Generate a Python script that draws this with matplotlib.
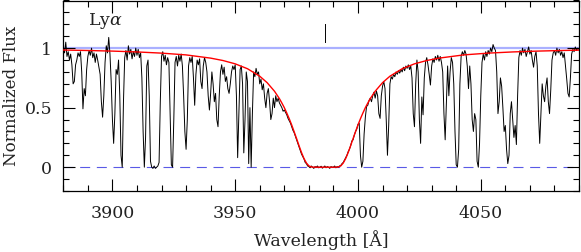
import numpy as np
import matplotlib
matplotlib.use("Agg")
import matplotlib.pyplot as plt
from matplotlib.ticker import MultipleLocator

# ---------------- data ----------------
wave_start = 3880.0
wave_step = 0.5
flux = [
    # 3880 - 3889.5
    1.00, 0.96, 1.05, 0.93, 0.97, 0.90, 0.95, 0.86, 0.70, 0.72,
    0.86, 0.90, 0.96, 0.93, 0.97, 0.80, 0.49, 0.66, 0.60, 0.82,
    # 3890 - 3899.5
    0.93, 0.98, 0.94, 1.00, 0.92, 0.96, 0.88, 0.95, 0.90, 0.84,
    0.78, 0.55, 0.42, 0.60, 0.88, 1.02, 0.96, 1.09, 0.95, 0.72,
    # 3900 - 3909.5
    0.40, 0.20, 0.45, 0.82, 0.78, 0.90, 0.60, 0.10, 0.00, 0.55,
    0.92, 0.98, 0.90, 1.02, 0.95, 0.99, 0.91, 0.97, 0.93, 1.00,
    # 3910 - 3919.5
    0.94, 0.99, 0.92, 0.96, 0.75, 0.30, 0.00, 0.25, 0.85, 0.90,
    0.60, 0.05, 0.00, -0.01, 0.01, -0.01, 0.00, 0.01, 0.04, 0.55,
    # 3920 - 3929.5
    0.93, 0.97, 0.89, 0.94, 0.86, 0.92, 0.88, 0.45, 0.02, 0.00,
    0.40, 0.88, 0.93, 0.85, 0.94, 0.89, 0.95, 0.85, 0.60, 0.30,
    # 3930 - 3939.5
    0.15, 0.40, 0.85, 0.92, 0.88, 0.93, 0.75, 0.52, 0.78, 0.90,
    0.86, 0.91, 0.72, 0.66, 0.85, 0.92, 0.88, 0.80, 0.60, 0.48,
    # 3940 - 3949.5
    0.62, 0.80, 0.70, 0.55, 0.62, 0.40, 0.34, 0.60, 0.80, 0.86,
    0.78, 0.84, 0.72, 0.76, 0.66, 0.62, 0.70, 0.80, 0.85, 0.82,
    # 3950 - 3959.5
    0.86, 0.60, 0.08, 0.45, 0.82, 0.85, 0.70, 0.12, 0.40, 0.80,
    0.72, 0.03, 0.50, 0.00, 0.45, 0.80, 0.76, 0.83, 0.78, 0.80,
    # 3960 - 3969.5
    0.70, 0.74, 0.65, 0.70, 0.58, 0.50, 0.62, 0.66, 0.55, 0.40,
    0.45, 0.58, 0.50, 0.60, 0.55, 0.58, 0.54, 0.52, 0.50, 0.47,
    # 3970 - 3979.5
    0.48, 0.46, 0.44, 0.41, 0.39, 0.37, 0.34, 0.31, 0.29, 0.26,
    0.23, 0.20, 0.17, 0.14, 0.11, 0.09, 0.07, 0.04, 0.03, 0.01,
    # 3980 - 3989.5
    0.005, -0.005, 0.01, 0.0, -0.01, 0.005, 0.0, 0.01, -0.005, 0.0,
    0.008, -0.008, 0.0, 0.01, -0.005, 0.005, 0.0, -0.01, 0.005, 0.0,
    # 3990 - 3999.5
    0.0, 0.01, -0.005, 0.005, 0.0, 0.01, 0.015, 0.03, 0.04, 0.06,
    0.08, 0.10, 0.13, 0.15, 0.18, 0.22, 0.23, 0.27, 0.30, 0.32,
    # 4000 - 4009.5
    0.36, 0.37, 0.10, 0.00, 0.05, 0.28, 0.42, 0.51, 0.52, 0.56,
    0.58, 0.55, 0.60, 0.63, 0.58, 0.64, 0.60, 0.45, 0.41, 0.60,
    # 4010 - 4019.5
    0.68, 0.72, 0.66, 0.40, 0.10, 0.35, 0.70, 0.76, 0.74, 0.78,
    0.76, 0.80, 0.78, 0.81, 0.79, 0.82, 0.80, 0.84, 0.81, 0.85,
    # 4020 - 4029.5
    0.83, 0.86, 0.82, 0.85, 0.75, 0.45, 0.34, 0.70, 0.90, 0.80,
    0.40, 0.20, 0.59, 0.44, 0.75, 0.88, 0.92, 0.86, 0.78, 0.69,
    # 4030 - 4039.5
    0.85, 0.91, 0.88, 0.93, 0.90, 0.94, 0.89, 0.93, 0.88, 0.80,
    0.45, 0.23, 0.55, 0.85, 0.60, 0.80, 0.92, 0.88, 0.70, 0.30,
    # 4040 - 4049.5
    0.02, 0.00, 0.15, 0.70, 0.93, 0.97, 0.94, 0.98, 0.95, 0.85,
    0.66, 0.85, 0.70, 0.40, 0.30, 0.45, 0.40, 0.05, 0.00, 0.20,
    # 4050 - 4059.5
    0.60, 0.88, 0.95, 0.90, 0.97, 0.93, 0.98, 0.95, 1.00, 0.97,
    1.03, 1.00, 0.98, 0.80, 0.45, 0.55, 0.75, 0.68, 0.50, 0.30,
    # 4060 - 4069.5
    0.35, 0.15, 0.03, 0.10, 0.45, 0.55, 0.40, 0.25, 0.35, 0.19,
    0.60, 0.92, 0.98, 0.94, 1.00, 0.96, 0.99, 0.93, 0.97, 1.01,
    # 4070 - 4079.5
    0.95, 0.98, 0.90, 0.84, 0.93, 0.97, 0.85, 0.45, 0.20, 0.45,
    0.70, 0.60, 0.55, 0.68, 0.75, 0.55, 0.45, 0.65, 0.90, 0.96,
    # 4080 - 4090
    0.98, 0.94, 1.00, 0.96, 0.99, 0.94, 0.97, 0.92, 0.96, 0.85,
    0.74, 0.62, 0.59, 0.75, 0.95, 0.99, 0.97, 1.01, 0.98, 1.00,
    0.99,
]

model_wave = [3880, 3890, 3900, 3910, 3920, 3930, 3940, 3945, 3950, 3955,
              3960, 3963, 3966, 3968, 3969, 3970, 3971, 3972, 3973, 3974,
              3975, 3976, 3977, 3978, 3979, 3980, 3981, 3982, 3991, 3992,
              3993, 3994, 3995, 3996, 3997, 3998, 3999, 4000, 4001, 4002,
              4003, 4004, 4005, 4007, 4010, 4013, 4018, 4023, 4028, 4033,
              4043, 4053, 4063, 4073, 4083, 4090]
model_flux = [0.984, 0.980, 0.975, 0.968, 0.958, 0.943, 0.916, 0.896, 0.868, 0.827,
              0.764, 0.710, 0.638, 0.576, 0.539, 0.500, 0.455, 0.407, 0.355, 0.298,
              0.240, 0.180, 0.123, 0.073, 0.035, 0.011, 0.002, 0.000, 0.000, 0.002,
              0.011, 0.035, 0.073, 0.123, 0.180, 0.240, 0.298, 0.355, 0.407, 0.455,
              0.500, 0.539, 0.576, 0.638, 0.710, 0.764, 0.827, 0.868, 0.896, 0.916,
              0.943, 0.958, 0.968, 0.975, 0.980, 0.983]

continuum_level = 1.0
zero_level = 0.0
marker_wave = 3986.7
marker_flux = [1.05, 1.20]
line_label = r"Ly$\alpha$"
label_wave, label_flux = 3890.0, 1.23

x_major = [3900, 3950, 4000, 4050]
y_major = [0, 0.5, 1]
y_major_labels = ["0", "0.5", "1"]

# ---------------- plot ----------------
plt.rcParams["font.family"] = ["DejaVu Serif"]
plt.rcParams["mathtext.fontset"] = "dejavuserif"

W, H = 581, 252
fig = plt.figure(figsize=(W / 100, H / 100), dpi=100)
ax = fig.add_axes([63.3 / W, 1 - 191 / H, (579 - 63.3) / W, 190.5 / H])

wave = wave_start + wave_step * np.arange(len(flux))

ax.axhline(continuum_level, color="#aab0ff", lw=1.6, zorder=1)
ax.axhline(zero_level, color="#5a5ae6", lw=0.8, ls=(0, (9, 6)), zorder=1)
ax.plot(wave, flux, color="black", lw=0.7, zorder=2)
ax.plot(model_wave, model_flux, color="#ff0000", lw=1.0, zorder=3)
ax.plot([marker_wave, marker_wave], marker_flux, color="black", lw=0.7)
ax.text(label_wave, label_flux, line_label, fontsize=12.5, va="center", ha="left",
        color="#222222")

ax.set_xlim(3880, 4090)
ax.set_ylim(-0.2, 1.4)
ax.set_xticks(x_major)
ax.xaxis.set_minor_locator(MultipleLocator(10))
ax.set_yticks(y_major)
ax.set_yticklabels(y_major_labels)
ax.yaxis.set_minor_locator(MultipleLocator(0.1))
ax.tick_params(which="both", direction="in", top=True, right=True, width=0.8,
               labelsize=12.5, labelcolor="#222222")
ax.tick_params(which="major", length=8.5)
ax.tick_params(which="minor", length=4.5)
ax.tick_params(axis="x", which="major", pad=10)
ax.tick_params(axis="y", which="major", pad=8)
for s in ax.spines.values():
    s.set_linewidth(0.9)

ax.set_xlabel("Wavelength [Å]", fontsize=12.5, color="#222222")
ax.set_ylabel("Normalized Flux", fontsize=12, color="#222222")
ax.xaxis.set_label_coords(0.5, -0.205)
ax.yaxis.set_label_coords(-0.083, 0.5)

fig.savefig("out.png", dpi=100)
